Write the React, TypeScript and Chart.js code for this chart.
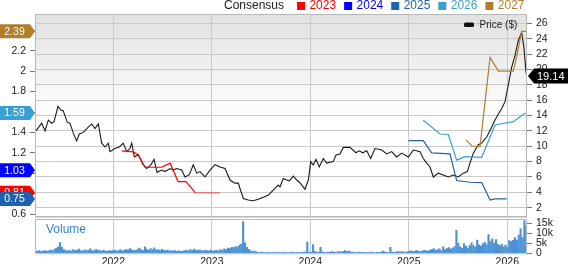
import React, { useEffect, useRef } from 'react';
import { Chart, registerables } from 'chart.js';

Chart.register(...registerables);

const FONT = '"Liberation Sans", Arial, Helvetica, sans-serif';

// ---- axes ----
const xMin = 2021.205;
const xMax = 2026.2;
const yearTicks = [2022, 2023, 2024, 2025, 2026];
const priceTicks = [2, 4, 6, 8, 10, 12, 14, 16, 18, 20, 22, 24, 26];
const priceMin = 0.92;
const priceMax = 27.21;
const epsTicks = [0.6, 0.8, 1, 1.2, 1.4, 1.6, 1.8, 2, 2.2, 2.4];
const epsMin = 0.583;
const epsMax = 2.559;
const volTicks = [0, 5000, 10000, 15000];
const volTickLabels = ['0', '5k', '10k', '15k'];
const volMax = 17150;

// ---- price ($) ----
const priceYears = [
  2021.215, 2021.273, 2021.307, 2021.340, 2021.375, 2021.398, 2021.439, 2021.466, 2021.492, 2021.533,
  2021.560, 2021.594, 2021.628, 2021.655, 2021.695, 2021.746, 2021.781, 2021.814, 2021.848, 2021.882,
  2021.916, 2021.949, 2021.966, 2022.017, 2022.061, 2022.101, 2022.136, 2022.169, 2022.187, 2022.213,
  2022.254, 2022.304, 2022.339, 2022.383, 2022.413, 2022.444, 2022.491, 2022.525, 2022.576, 2022.609,
  2022.644, 2022.694, 2022.728, 2022.772, 2022.812, 2022.847, 2022.880, 2022.931, 2022.982, 2023.032,
  2023.083, 2023.134, 2023.185, 2023.235, 2023.269, 2023.286, 2023.320, 2023.370, 2023.421, 2023.472,
  2023.523, 2023.574, 2023.624, 2023.675, 2023.692, 2023.726, 2023.760, 2023.787, 2023.827, 2023.862,
  2023.895, 2023.946, 2023.980, 2024.004, 2024.030, 2024.058, 2024.091, 2024.132, 2024.166, 2024.233,
  2024.261, 2024.301, 2024.335, 2024.403, 2024.464, 2024.497, 2024.532, 2024.573, 2024.613, 2024.657,
  2024.725, 2024.776, 2024.826, 2024.877, 2024.928, 2024.995, 2025.046, 2025.114, 2025.147, 2025.182,
  2025.215, 2025.249, 2025.299, 2025.350, 2025.401, 2025.452, 2025.502, 2025.553, 2025.594, 2025.621,
  2025.655, 2025.706, 2025.740, 2025.791, 2025.842, 2025.875, 2025.909, 2025.943, 2025.977, 2026.010,
  2026.045, 2026.078, 2026.112, 2026.146, 2026.169, 2026.190, 2026.200,
];
const priceValues = [
  12.0, 13.0, 12.0, 13.4, 13.0, 13.2, 15.2, 14.7, 14.6, 13.1,
  13.0, 11.7, 10.7, 11.6, 11.8, 12.5, 12.9, 12.3, 12.9, 10.4,
  9.9, 10.4, 9.3, 9.7, 9.9, 10.4, 9.3, 9.7, 10.4, 8.6,
  8.9, 7.6, 7.1, 7.6, 8.3, 6.6, 6.9, 6.7, 7.1, 6.9,
  7.1, 6.9, 6.0, 6.3, 7.6, 6.5, 6.7, 6.0, 6.9, 7.6,
  7.3, 7.1, 5.6, 5.2, 5.2, 4.5, 3.2, 3.0, 2.9, 3.1,
  3.35, 3.65, 4.3, 4.95, 4.7, 5.8, 5.6, 5.5, 6.1, 5.6,
  5.25, 4.4, 5.6, 8.0, 7.55, 8.3, 7.3, 8.4, 7.8, 8.0,
  8.85, 9.0, 9.85, 9.85, 9.15, 9.4, 9.15, 9.4, 8.4, 9.7,
  9.5, 9.0, 9.3, 8.6, 9.1, 8.6, 9.5, 9.3, 8.4, 7.8,
  7.3, 6.0, 6.5, 6.25, 6.0, 6.25, 6.0, 6.5, 6.7, 7.8,
  9.1, 10.2, 10.4, 11.2, 12.5, 13.4, 14.2, 14.9, 15.8, 18.0,
  20.3, 21.8, 23.8, 24.8, 22.8, 19.6, 19.14,
];

// ---- EPS consensus ----
const c2023Years = [2022.085, 2022.203, 2022.254, 2022.322, 2022.491, 2022.578, 2022.657, 2022.738, 2022.834, 2023.083];
const c2023Values = [1.22, 1.21, 1.18, 1.06, 1.06, 1.10, 0.92, 0.92, 0.81, 0.81];
const c2025Years = [2024.995, 2025.147, 2025.232, 2025.418, 2025.486, 2025.621, 2025.740, 2025.825, 2025.875, 2025.994];
const c2025Values = [1.32, 1.32, 1.20, 1.19, 0.93, 0.913, 0.91, 0.74, 0.75, 0.75];
const c2026Years = [2025.147, 2025.317, 2025.401, 2025.486, 2025.571, 2025.740, 2025.875, 2025.926, 2026.061, 2026.129, 2026.187];
const c2026Values = [1.52, 1.385, 1.38, 1.13, 1.163, 1.157, 1.473, 1.483, 1.506, 1.554, 1.59];
const c2027Years = [2025.581, 2025.639, 2025.723, 2025.825, 2025.909, 2026.061, 2026.095, 2026.146, 2026.190];
const c2027Values = [1.327, 1.268, 1.261, 2.135, 2.0, 2.0, 2.14, 2.39, 2.39];

const legendYears = ['2023', '2024', '2025', '2026', '2027'];
const legendColors = ['#ff0000', '#0000ff', '#1e62b0', '#3c9fd2', '#b27e2c'];

// current consensus tags (drawn in this order; last on top)
const tagValues = [2.39, 1.59, 1.03, 0.81, 0.75];
const tagColors = ['#b27e2c', '#3c9fd2', '#0000ff', '#ff0000', '#1e62b0'];
const lastPrice = 19.14;

// ---- weekly volume (thousands) ----
const volStart = 2021.21;
const volPerYear = 52.18;
const volumeK = [
  1.2, 1.0, 1.3, 0.9, 1.1, 1.4, 1.0, 1.2, 1.6, 1.3, 2.0, 2.6, 3.2,
  5.3, 3.0, 1.8,
  1.4, 1.2, 1.5, 1.1, 1.9, 1.3, 1.6, 2.1, 1.4, 1.2, 1.7, 1.3, 1.5, 2.2, 1.4, 1.2, 1.8, 1.6, 1.3, 1.1, 1.5, 1.2, 1.0, 1.3, 1.2,
  1.4, 1.6, 1.1, 1.3, 1.8, 1.2, 1.5, 2.0, 1.6, 2.4, 1.7, 1.3, 1.5, 1.9, 2.6, 1.8, 1.4, 3.2, 2.1, 1.6,
  2.4, 1.9, 2.7, 1.6, 1.8, 1.4, 2.0, 1.5, 1.3, 1.6, 1.2, 1.4, 1.1, 1.3, 1.0, 1.2, 0.9, 1.1, 1.3, 1.6, 1.2, 1.8, 1.4, 2.1, 1.5, 1.3, 1.7, 1.4, 1.2, 1.5,
  1.4, 1.2, 1.6, 1.1, 1.3, 1.5, 1.2, 1.8, 1.5, 2.2, 1.9, 2.6, 2.3, 3.0, 2.8, 3.4, 3.1, 4.0, 4.6,
  15.8,
  5.2, 3.0, 2.0, 1.2, 0.9, 1.1, 0.7,
  0.5, 0.4, 0.6, 0.3, 0.4, 0.5, 0.3, 0.4, 0.3, 0.5, 0.4, 0.3, 0.4, 0.3, 0.5, 0.4, 0.3, 0.4, 0.6, 0.4, 0.3, 0.5, 0.4, 0.6, 0.5, 0.7,
  5.6, 0.6, 0.5, 4.4, 0.8, 0.6, 0.5, 3.0,
  0.7, 0.5, 0.4, 0.6, 0.5, 0.8, 0.6, 0.5, 0.7, 0.9, 0.6, 1.0, 1.3, 0.8, 1.1, 0.7, 0.6, 0.5, 0.4, 0.6, 0.5, 0.4, 0.5, 0.3, 0.4, 0.5, 0.6, 0.4, 0.3, 0.5, 0.4, 0.6, 1.1, 0.7, 0.5, 0.4,
  3.0,
  0.6, 0.5, 0.6, 0.8, 0.7, 0.9, 0.6, 0.5, 0.7, 1.0, 1.2, 0.9, 1.1, 1.4, 1.0, 0.8, 1.2, 1.5, 1.3, 1.1, 1.6, 1.9, 2.4, 1.5, 1.8, 2.2, 1.4, 3.2, 1.9, 2.4, 2.8, 2.1, 2.6, 3.4,
  11.5,
  5.0, 3.2, 2.5,
  4.8, 3.5, 2.6, 3.9, 5.2, 4.0, 3.1, 6.6, 4.2, 3.6, 4.9, 5.5, 4.3, 9.4, 6.0, 7.2, 5.1, 6.8, 4.5, 3.8, 4.6, 3.2, 4.1, 3.0,
  6.3, 5.9, 6.5, 7.8, 6.6, 9.1, 12.2, 7.9, 16.2, 13.5,
];

const GRID = '#c9c9c9';
const FRAME = '#b9b9b9';
const TICK = '#7a7a7a';
const TXT = '#222222';

const pts = (xs: number[], ys: number[]) => xs.map((x, i) => ({ x, y: ys[i] }));

const yearScaleTicks = (s: any) => {
  s.ticks = yearTicks.map((v) => ({ value: v }));
};

export default function App() {
  const mainRef = useRef<HTMLCanvasElement>(null);
  const volRef = useRef<HTMLCanvasElement>(null);

  useEffect(() => {
    const bgPlugin = {
      id: 'bg',
      beforeDraw(chart: any) {
        const { ctx, chartArea: a } = chart;
        ctx.save();
        const g = ctx.createLinearGradient(0, a.top, 0, a.top + 105);
        g.addColorStop(0, '#e1e1e1');
        g.addColorStop(1, '#ffffff');
        ctx.fillStyle = g;
        ctx.fillRect(a.left, a.top, a.right - a.left, a.bottom - a.top);
        ctx.restore();
      },
    };

    const overlayPlugin = {
      id: 'overlay',
      afterDraw(chart: any) {
        const { ctx, chartArea: a } = chart;
        const yE = chart.scales.yE;
        const yP = chart.scales.yP;
        ctx.save();
        // frame
        ctx.strokeStyle = FRAME;
        ctx.lineWidth = 1;
        ctx.strokeRect(a.left + 0.5, a.top + 0.5, a.right - a.left - 1, a.bottom - a.top);

        // top legend
        ctx.textBaseline = 'middle';
        ctx.textAlign = 'left';
        ctx.font = `12px ${FONT}`;
        let x = 224;
        ctx.fillStyle = TXT;
        ctx.fillText('Consensus', x, 6);
        x += ctx.measureText('Consensus').width + 13;
        legendYears.forEach((yr, i) => {
          ctx.fillStyle = legendColors[i];
          ctx.fillRect(x, 2, 8, 8);
          ctx.fillText(yr, x + 12.4, 6);
          x += 8 + 4.4 + ctx.measureText(yr).width + 8;
        });

        // price legend
        ctx.fillStyle = '#111';
        ctx.beginPath();
        ctx.roundRect(464, 22.5, 10, 4.5, 1.5);
        ctx.fill();
        ctx.font = `10px ${FONT}`;
        ctx.fillStyle = TXT;
        ctx.fillText('Price ($)', 479.5, 25.5);

        // left consensus tags
        ctx.font = `10.5px ${FONT}`;
        tagValues.forEach((v, i) => {
          const y = yE.getPixelForValue(v);
          ctx.fillStyle = tagColors[i];
          ctx.beginPath();
          ctx.moveTo(0, y - 7);
          ctx.lineTo(30, y - 7);
          ctx.lineTo(35, y);
          ctx.lineTo(30, y + 7);
          ctx.lineTo(0, y + 7);
          ctx.closePath();
          ctx.fill();
          ctx.fillStyle = '#ffffff';
          ctx.textAlign = 'center';
          ctx.fillText(v.toFixed(2), 14.5, y + 0.5);
        });

        // right price tag
        const py = yP.getPixelForValue(lastPrice);
        ctx.fillStyle = '#000000';
        ctx.beginPath();
        ctx.moveTo(528, py);
        ctx.lineTo(534, py - 7.5);
        ctx.lineTo(568, py - 7.5);
        ctx.lineTo(568, py + 7.5);
        ctx.lineTo(534, py + 7.5);
        ctx.closePath();
        ctx.fill();
        ctx.fillStyle = '#ffffff';
        ctx.textAlign = 'left';
        ctx.font = `11px ${FONT}`;
        ctx.fillText(lastPrice.toFixed(2), 537, py + 0.5);
        ctx.restore();
      },
    };

    const lineDs = (label: string, xs: number[], ys: number[], color: string, extra: any = {}) => ({
      label,
      data: pts(xs, ys),
      yAxisID: 'yE',
      borderColor: color,
      borderWidth: 1.2,
      pointRadius: 0,
      tension: 0,
      fill: false,
      ...extra,
    });

    const main = new Chart(mainRef.current as HTMLCanvasElement, {
      type: 'line',
      data: {
        datasets: [
          lineDs('2027', c2027Years, c2027Values, legendColors[4]),
          lineDs('2026', c2026Years, c2026Values, legendColors[3]),
          lineDs('2025', c2025Years, c2025Values, legendColors[2]),
          lineDs('2023', c2023Years, c2023Values, legendColors[0], {
            segment: {
              borderColor: (c: any) =>
                c.p0DataIndex === c2023Years.length - 2 ? 'rgba(240,80,80,0.85)' : legendColors[0],
            },
          }),
          {
            label: 'Price',
            data: pts(priceYears, priceValues),
            yAxisID: 'yP',
            borderColor: '#1a1a1a',
            borderWidth: 1.1,
            pointRadius: 0,
            tension: 0,
            fill: false,
          },
        ],
      },
      options: {
        responsive: false,
        animation: false,
        events: [],
        layout: { padding: { left: 0, right: 0, top: 14, bottom: 6 } },
        plugins: { legend: { display: false }, tooltip: { enabled: false } },
        scales: {
          x: {
            type: 'linear',
            min: xMin,
            max: xMax,
            afterBuildTicks: yearScaleTicks,
            ticks: { display: false },
            grid: { color: GRID, drawTicks: false },
            border: { display: false },
            afterFit: (s: any) => {
              s.height = 0;
              s.paddingLeft = 0;
              s.paddingRight = 0;
            },
          },
          yE: {
            type: 'linear',
            position: 'left',
            min: epsMin,
            max: epsMax,
            afterBuildTicks: (s: any) => {
              s.ticks = epsTicks.map((v) => ({ value: v }));
            },
            ticks: {
              font: { family: FONT, size: 10.5 },
              color: TXT,
              padding: 4,
              autoSkip: false,
              callback: (v: any) => String(v),
            },
            grid: { drawOnChartArea: false, tickLength: 5, tickColor: TICK },
            border: { display: false },
            afterFit: (s: any) => {
              s.width = 35;
              s.paddingTop = 0;
              s.paddingBottom = 0;
            },
          },
          yP: {
            type: 'linear',
            position: 'right',
            min: priceMin,
            max: priceMax,
            afterBuildTicks: (s: any) => {
              s.ticks = priceTicks.map((v) => ({ value: v }));
            },
            ticks: {
              font: { family: FONT, size: 10.5 },
              color: TXT,
              padding: 4,
              autoSkip: false,
              callback: (v: any) => String(v),
            },
            grid: { color: GRID, tickLength: 5, tickColor: TICK },
            border: { display: false },
            afterFit: (s: any) => {
              s.width = 41;
              s.paddingTop = 0;
              s.paddingBottom = 0;
            },
          },
        },
      } as any,
      plugins: [bgPlugin, overlayPlugin],
    });

    const volOverlay = {
      id: 'volOverlay',
      afterDraw(chart: any) {
        const { ctx, chartArea: a } = chart;
        ctx.save();
        ctx.strokeStyle = FRAME;
        ctx.lineWidth = 1;
        ctx.strokeRect(a.left + 0.5, a.top + 0.5, a.right - a.left - 1, a.bottom - a.top);
        ctx.strokeStyle = '#d6d6d6';
        ctx.beginPath();
        ctx.moveTo(a.left, 1.5);
        ctx.lineTo(a.right, 1.5);
        ctx.stroke();
        ctx.font = `12px ${FONT}`;
        ctx.fillStyle = '#3a86cc';
        ctx.textAlign = 'left';
        ctx.textBaseline = 'middle';
        ctx.fillText('Volume', 46, 13.5);
        ctx.restore();
      },
    };

    const vol = new Chart(volRef.current as HTMLCanvasElement, {
      type: 'bar',
      data: {
        datasets: [
          {
            label: 'Volume',
            data: volumeK.map((v, i) => ({ x: volStart + i / volPerYear, y: v * 1000 })),
            backgroundColor: '#4c92d3',
            borderWidth: 0,
            barThickness: 1.5,
            xAxisID: 'x',
            yAxisID: 'yV',
          },
        ],
      },
      options: {
        responsive: false,
        animation: false,
        events: [],
        layout: { padding: { left: 35, right: 0, top: 3, bottom: 0 } },
        plugins: { legend: { display: false }, tooltip: { enabled: false } },
        scales: {
          x: {
            type: 'linear',
            offset: false,
            min: xMin,
            max: xMax,
            afterBuildTicks: yearScaleTicks,
            ticks: {
              font: { family: FONT, size: 10.5 },
              color: TXT,
              padding: 2.5,
              maxRotation: 0,
              autoSkip: false,
              callback: (v: any) => String(v),
            },
            grid: { color: GRID, drawTicks: false, offset: false },
            border: { display: false },
            afterFit: (s: any) => {
              s.height = 10.7;
              s.paddingLeft = 0;
              s.paddingRight = 0;
            },
          },
          yV: {
            type: 'linear',
            position: 'right',
            min: 0,
            max: volMax,
            afterBuildTicks: (s: any) => {
              s.ticks = volTicks.map((v) => ({ value: v }));
            },
            ticks: {
              font: { family: FONT, size: 10.5 },
              color: TXT,
              padding: 4,
              autoSkip: false,
              callback: (v: any) => volTickLabels[volTicks.indexOf(v)] ?? '',
            },
            grid: { drawOnChartArea: false, tickLength: 5, tickColor: TICK },
            border: { display: false },
            afterFit: (s: any) => {
              s.width = 41;
              s.paddingTop = 0;
              s.paddingBottom = 0;
            },
          },
        },
      } as any,
      plugins: [volOverlay],
    });

    return () => {
      main.destroy();
      vol.destroy();
    };
  }, []);

  return (
    <div style={{ position: 'fixed', left: 0, top: 0, width: 568, height: 264, background: '#ffffff', overflow: 'hidden' }}>
      <canvas ref={mainRef} width={568} height={222} style={{ position: 'absolute', left: 0, top: 0, width: 568, height: 222 }} />
      <canvas ref={volRef} width={568} height={48} style={{ position: 'absolute', left: 0, top: 216, width: 568, height: 48 }} />
    </div>
  );
}
